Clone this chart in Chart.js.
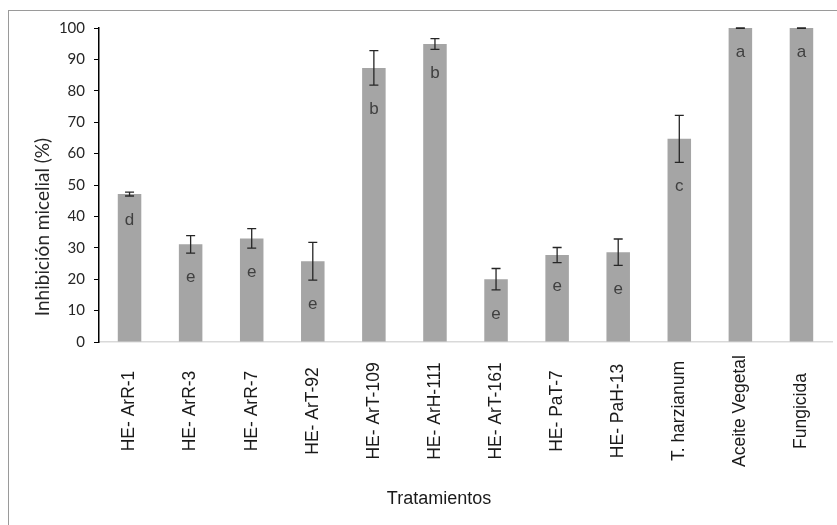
<!DOCTYPE html>
<html>
<head>
<meta charset="utf-8">
<script src="https://cdn.jsdelivr.net/npm/chart.js@4.4.0/dist/chart.umd.min.js"></script>
<style>
  html, body { margin: 0; padding: 0; background: #fff; }
  #wrap { width: 837px; height: 525px; }
</style>
</head>
<body>
<div id="wrap"><canvas id="myChart" width="837" height="525"></canvas></div>
<script>
const treatments = ["HE- ArR-1", "HE- ArR-3", "HE- ArR-7", "HE- ArT-92", "HE- ArT-109", "HE- ArH-111",
    "HE- ArT-161", "HE- PaT-7", "HE- PaH-13", "T. harzianum", "Aceite Vegetal", "Fungicida"];
const inhibition = [47.1, 31.1, 33.0, 25.7, 87.3, 94.9, 20.0, 27.7, 28.6, 64.7, 100, 100];
const errors = [0.6, 2.8, 3.1, 6.0, 5.5, 1.7, 3.4, 2.4, 4.2, 7.5, 0.1, 0.1];
const groups = ["d", "e", "e", "e", "b", "b", "e", "e", "e", "c", "a", "a"];
const yTicks = [0, 10, 20, 30, 40, 50, 60, 70, 80, 90, 100];

const ctx = document.getElementById("myChart").getContext("2d");

// outer frame, error bars, letters and the category labels
const extras = {
    id: "extras",
    beforeDraw(chart) {
        const c = chart.ctx;
        c.save();
        c.fillStyle = "#fff";
        c.fillRect(0, 0, chart.width, chart.height);
        c.strokeStyle = "#9a9a9a";
        c.lineWidth = 1;
        c.strokeRect(8.5, 10.5, 900, 600);
        c.restore();
    },
    afterDatasetsDraw(chart) {
        const c = chart.ctx;
        const x = chart.scales.x;
        const y = chart.scales.y;
        c.save();
        c.strokeStyle = "#262626";
        c.lineWidth = 1.3;
        inhibition.forEach((v, i) => {
            const px = x.getPixelForValue(i);
            const top = y.getPixelForValue(Math.min(v + errors[i], 100));
            const bot = y.getPixelForValue(v - errors[i]);
            c.beginPath();
            c.moveTo(px, top); c.lineTo(px, bot);
            c.moveTo(px - 4.5, top); c.lineTo(px + 4.5, top);
            c.moveTo(px - 4.5, bot); c.lineTo(px + 4.5, bot);
            c.stroke();

            c.fillStyle = "#404040";
            c.font = "17px 'Liberation Sans', Arial, sans-serif";
            c.textAlign = "center";
            c.textBaseline = "middle";
            c.fillText(groups[i], px, bot + 24);
        });

        c.fillStyle = "#1a1a1a";
        c.font = "17.5px 'Liberation Sans', Arial, sans-serif";
        treatments.forEach((t, i) => {
            c.save();
            c.translate(x.getPixelForValue(i), 411);
            c.rotate(-Math.PI / 2);
            c.textAlign = "center";
            c.textBaseline = "middle";
            c.fillText(t, 0, 0);
            c.restore();
        });

        c.font = "18px 'Liberation Sans', Arial, sans-serif";
        c.textAlign = "center";
        c.textBaseline = "middle";
        c.fillText("Tratamientos", 439, 499);

        c.save();
        c.translate(43, 227);
        c.rotate(-Math.PI / 2);
        c.font = "19px Lato, sans-serif";
        c.fillStyle = "#262626";
        c.fillText("Inhibición micelial (%)", 0, 0);
        c.restore();
        c.restore();
    }
};

const myChart = new Chart(ctx, {
    type: "bar",
    data: {
        labels: treatments,
        datasets: [
            {
                label: "Inhibición micelial",
                data: inhibition,
                backgroundColor: "#a5a5a5",
                borderWidth: 0,
                barPercentage: 0.385,
                categoryPercentage: 1,
            },
        ],
    },
    options: {
        responsive: false,
        animation: false,
        layout: { padding: { top: 28, right: 5, bottom: 183, left: 0 } },
        scales: {
            x: {
                grid: { display: true, drawOnChartArea: false, drawTicks: false },
                border: { color: "#d9d9d9", width: 1.5 },
                ticks: { display: false },
                afterFit: (scale) => { scale.height = 0; },
            },
            y: {
                min: 0,
                max: 100,
                afterBuildTicks: (scale) => { scale.ticks = yTicks.map(v => ({ value: v })); },
                grid: { display: true, drawOnChartArea: false, drawTicks: true, tickLength: 5, color: "#000" },
                border: { color: "#000", width: 1.5 },
                ticks: { color: "#262626", padding: 9, font: { family: "Lato", size: 15 } },
                afterFit: (scale) => { scale.width = 99; },
            },
        },
        plugins: {
            legend: { display: false },
            tooltip: { enabled: false },
        },
    },
    plugins: [extras],
});
</script>
</body>
</html>
